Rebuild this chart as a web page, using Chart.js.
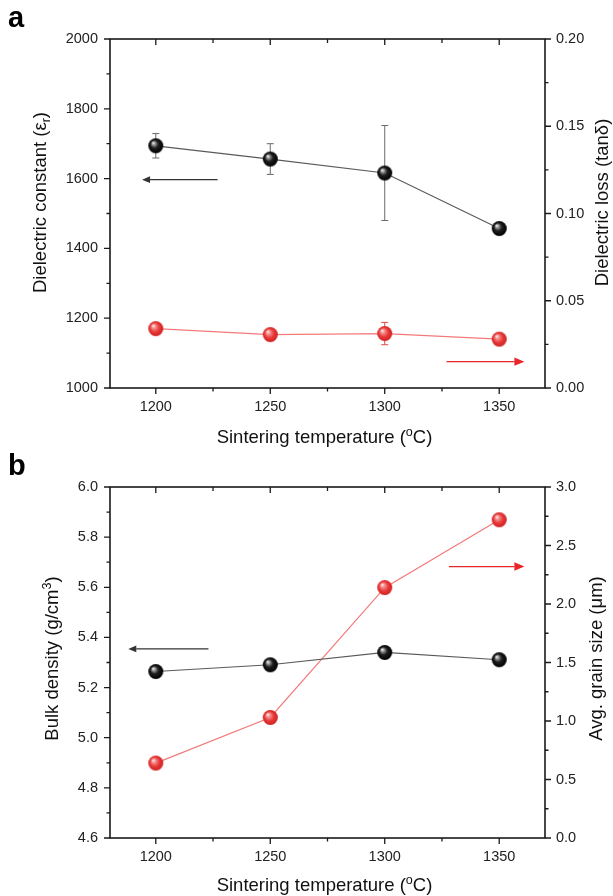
<!DOCTYPE html>
<html>
<head>
<meta charset="utf-8">
<script src="https://cdn.jsdelivr.net/npm/chart.js@4"></script>
<style>
  html, body { margin: 0; padding: 0; background: #fff; }
  #wrap { position: relative; width: 613px; height: 896px; }
  .panel { position: absolute; left: 0; width: 613px; }
  #pa { top: 0; height: 450px; }
  #pb { top: 450px; height: 446px; }
</style>
</head>
<body>
<div id="wrap">
  <div class="panel" id="pa"><canvas id="chartA"></canvas></div>
  <div class="panel" id="pb"><canvas id="chartB"></canvas></div>
</div>
<script>
// data
const temps = [1200, 1250, 1300, 1350];
const dielConst = [1694, 1656, 1616, 1457];
const dielConstErr = [35, 44, 136, 10];
const dielLoss = [0.034, 0.0306, 0.0312, 0.028];
const dielLossErr = [0, 0, 0.0064, 0];
const bulkDensity = [5.264, 5.291, 5.340, 5.311];
const grainSize = [0.64, 1.03, 2.14, 2.72];

// ticks
const xMajor = [1200, 1250, 1300, 1350];
const xMinor = [1225, 1275, 1325];
const aLeftMajor = [1000, 1200, 1400, 1600, 1800, 2000];
const aLeftMinor = [1100, 1300, 1500, 1700, 1900];
const aRightMajor = [0, 0.05, 0.10, 0.15, 0.20];
const aRightMinor = [0.025, 0.075, 0.125, 0.175];
const bLeftMajor = [4.6, 4.8, 5.0, 5.2, 5.4, 5.6, 5.8, 6.0];
const bLeftMinor = [4.7, 4.9, 5.1, 5.3, 5.5, 5.7, 5.9];
const bRightMajor = [0, 0.5, 1.0, 1.5, 2.0, 2.5, 3.0];
const bRightMinor = [0.25, 0.75, 1.25, 1.75, 2.25, 2.75];

const FONT = 'Arial, "Liberation Sans", Helvetica, sans-serif';
const AXIS = '#1a1a1a';

function sphere(r, stops) {
  const c = document.createElement('canvas');
  const s = Math.ceil(r * 2 + 2);
  c.width = s; c.height = s;
  const g = c.getContext('2d');
  const m = s / 2;
  const grad = g.createRadialGradient(m - r * 0.35, m - r * 0.4, r * 0.05, m, m, r);
  stops.forEach(([o, col]) => grad.addColorStop(o, col));
  g.fillStyle = grad;
  g.beginPath();
  g.arc(m, m, r, 0, Math.PI * 2);
  g.fill();
  return c;
}
const blackBall = sphere(7.5, [[0, '#f0f0f0'], [0.22, '#8a8a8a'], [0.5, '#1e1e1e'], [1, '#000']]);
const redBall = sphere(7.5, [[0, '#ffe4e4'], [0.25, '#f58a8a'], [0.6, '#e83a3a'], [1, '#d02020']]);

function pairs(xs, ys) { return xs.map((x, i) => ({ x, y: ys[i] })); }

function drawRich(ctx, segs, cx, cy, rot, size) {
  ctx.save();
  ctx.translate(cx, cy);
  ctx.rotate(rot);
  ctx.fillStyle = '#111';
  ctx.textBaseline = 'middle';
  let w = 0;
  segs.forEach(s => {
    ctx.font = (s.sub || s.sup ? size * 0.68 : size) + 'px ' + FONT;
    s.w = ctx.measureText(s.t).width;
    w += s.w;
  });
  let x = -w / 2;
  segs.forEach(s => {
    const fs = s.sub || s.sup ? size * 0.68 : size;
    ctx.font = fs + 'px ' + FONT;
    const dy = s.sub ? size * 0.28 : s.sup ? -size * 0.3 : 0;
    ctx.textAlign = 'left';
    ctx.fillText(s.t, x, dy);
    x += s.w;
  });
  ctx.restore();
}

// frame, minor ticks, error bars, arrows and titles
const decor = {
  id: 'decor',
  beforeDatasetsDraw(chart) {
    const ctx = chart.ctx;
    chart.data.datasets.forEach(ds => {
      if (!ds.errors) return;
      const xs = chart.scales.x, ys = chart.scales[ds.yAxisID];
      ctx.save();
      ctx.strokeStyle = ds.errColor;
      ctx.lineWidth = 1;
      ds.data.forEach((p, j) => {
        const e = ds.errors[j];
        if (!e) return;
        const px = xs.getPixelForValue(p.x);
        const t = ys.getPixelForValue(p.y + e), b = ys.getPixelForValue(p.y - e);
        ctx.beginPath();
        ctx.moveTo(px, t); ctx.lineTo(px, b);
        ctx.moveTo(px - 3.5, t); ctx.lineTo(px + 3.5, t);
        ctx.moveTo(px - 3.5, b); ctx.lineTo(px + 3.5, b);
        ctx.stroke();
      });
      ctx.restore();
    });
  },
  afterDraw(chart, args, o) {
    const ctx = chart.ctx;
    const a = chart.chartArea;
    ctx.save();
    ctx.strokeStyle = AXIS;
    ctx.lineWidth = 1.6;
    ctx.strokeRect(a.left, a.top, a.right - a.left, a.bottom - a.top);
    ctx.lineWidth = 1.3;
    ctx.beginPath();
    const xs = chart.scales.x;
    xs.ticks.forEach(t => {
      const px = xs.getPixelForValue(t.value);
      const len = o.xMajor.includes(t.value) ? 6 : 3.5;
      ctx.moveTo(px, a.bottom); ctx.lineTo(px, a.bottom + len);
      ctx.moveTo(px, a.top); ctx.lineTo(px, a.top + (o.xMajor.includes(t.value) ? 6 : 4));
    });
    ['y', 'y1'].forEach(id => {
      const s = chart.scales[id];
      const major = o[id + 'Major'];
      s.ticks.forEach(t => {
        const py = s.getPixelForValue(t.value);
        const len = major.includes(t.value) ? 6 : 3.5;
        if (id === 'y') { ctx.moveTo(a.left, py); ctx.lineTo(a.left - len, py); }
        else { ctx.moveTo(a.right, py); ctx.lineTo(a.right + len, py); }
      });
    });
    ctx.stroke();

    // arrows
    o.arrows.forEach(ar => {
      const ys = chart.scales[ar.axis];
      const x0 = xs.getPixelForValue(ar.from), x1 = xs.getPixelForValue(ar.to);
      const py = ys.getPixelForValue(ar.y);
      const dir = Math.sign(x1 - x0);
      ctx.strokeStyle = ar.color;
      ctx.fillStyle = ar.color;
      ctx.lineWidth = 1.3;
      ctx.beginPath();
      ctx.moveTo(x0, py); ctx.lineTo(x1 - dir * ar.head, py);
      ctx.stroke();
      ctx.beginPath();
      ctx.moveTo(x1, py);
      ctx.lineTo(x1 - dir * ar.head, py - ar.head * 0.42);
      ctx.lineTo(x1 - dir * ar.head, py + ar.head * 0.42);
      ctx.closePath();
      ctx.fill();
    });
    ctx.restore();

    // titles
    const cy = (a.top + a.bottom) / 2;
    drawRich(ctx, o.leftTitle, o.leftX, cy - o.titleLift, -Math.PI / 2, 18.5);
    drawRich(ctx, o.rightTitle, o.rightX, cy - o.titleLift, -Math.PI / 2, 18.5);
    drawRich(ctx, [{ t: 'Sintering temperature (' }, { t: 'o', sup: true }, { t: 'C)' }],
      (a.left + a.right) / 2 - 3, o.xTitleY, 0, 18.5);
    ctx.save();
    ctx.fillStyle = '#000';
    ctx.font = 'bold 29px ' + FONT;
    ctx.textAlign = 'left';
    ctx.textBaseline = 'alphabetic';
    ctx.fillText(o.letter, 8, o.letterY);
    ctx.restore();
  }
};

function makeChart(canvasId, cfg) {
  const allX = xMajor.concat(xMinor).sort((p, q) => p - q);
  const allL = cfg.leftMajor.concat(cfg.leftMinor).sort((p, q) => p - q);
  const allR = cfg.rightMajor.concat(cfg.rightMinor).sort((p, q) => p - q);
  const tickFont = { family: FONT, size: 14.5 };
  return new Chart(document.getElementById(canvasId), {
    type: 'line',
    data: {
      datasets: [
        {
          data: pairs(temps, cfg.leftData), yAxisID: 'y',
          borderColor: '#5a5a5a', borderWidth: 1.2, pointStyle: blackBall,
          errors: cfg.leftErr, errColor: '#6a6a6a'
        },
        {
          data: pairs(temps, cfg.rightData), yAxisID: 'y1',
          borderColor: '#f27a7a', borderWidth: 1.2, pointStyle: redBall,
          errors: cfg.rightErr, errColor: '#e04a4a'
        }
      ]
    },
    options: {
      responsive: true,
      maintainAspectRatio: false,
      animation: false,
      layout: { padding: { top: cfg.top, left: 0, right: 0, bottom: 0 } },
      plugins: {
        legend: { display: false },
        tooltip: { enabled: false },
        decor: {
          xMajor, yMajor: cfg.leftMajor, y1Major: cfg.rightMajor,
          arrows: cfg.arrows, leftTitle: cfg.leftTitle, rightTitle: cfg.rightTitle,
          leftX: cfg.leftX, rightX: cfg.rightX, titleLift: cfg.titleLift,
          xTitleY: cfg.xTitleY, letter: cfg.letter, letterY: cfg.letterY
        }
      },
      scales: {
        x: {
          type: 'linear', min: 1180, max: 1370,
          afterBuildTicks: s => { s.ticks = allX.map(v => ({ value: v })); },
          afterFit: s => { s.height = cfg.xHeight; },
          grid: { display: false, drawTicks: false },
          border: { display: false },
          ticks: {
            autoSkip: false, maxRotation: 0, padding: 10, color: '#222', font: tickFont,
            callback: v => xMajor.includes(v) ? String(v) : ''
          }
        },
        y: {
          position: 'left', min: cfg.leftMajor[0], max: cfg.leftMajor[cfg.leftMajor.length - 1],
          afterBuildTicks: s => { s.ticks = allL.map(v => ({ value: v })); },
          afterFit: s => { s.width = 110; },
          grid: { display: false, drawTicks: false },
          border: { display: false },
          ticks: {
            autoSkip: false, padding: 12, color: '#222', font: tickFont,
            callback: v => cfg.leftMajor.includes(v) ? v.toFixed(cfg.leftDec) : ''
          }
        },
        y1: {
          position: 'right', min: 0, max: cfg.rightMajor[cfg.rightMajor.length - 1],
          afterBuildTicks: s => { s.ticks = allR.map(v => ({ value: v })); },
          afterFit: s => { s.width = 68; },
          grid: { display: false, drawTicks: false },
          border: { display: false },
          ticks: {
            autoSkip: false, padding: 11, color: '#222', font: tickFont,
            callback: v => cfg.rightMajor.includes(v) ? v.toFixed(cfg.rightDec) : ''
          }
        }
      }
    },
    plugins: [decor]
  });
}

makeChart('chartA', {
  top: 39, xHeight: 62,
  leftData: dielConst, leftErr: dielConstErr,
  rightData: dielLoss, rightErr: dielLossErr,
  leftMajor: aLeftMajor, leftMinor: aLeftMinor, leftDec: 0,
  rightMajor: aRightMajor, rightMinor: aRightMinor, rightDec: 2,
  arrows: [
    { from: 1227, to: 1194, y: 1597, axis: 'y', color: '#333', head: 8 },
    { from: 1327, to: 1361, y: 0.0151, axis: 'y1', color: '#e8262a', head: 10 }
  ],
  leftTitle: [{ t: 'Dielectric constant (ε' }, { t: 'r', sub: true }, { t: ')' }],
  rightTitle: [{ t: 'Dielectric loss (tanδ)' }],
  leftX: 41, rightX: 603, titleLift: 11,
  xTitleY: 438, letter: 'a', letterY: 27
});

makeChart('chartB', {
  top: 37, xHeight: 58,
  leftData: bulkDensity, leftErr: null,
  rightData: grainSize, rightErr: null,
  leftMajor: bLeftMajor, leftMinor: bLeftMinor, leftDec: 1,
  rightMajor: bRightMajor, rightMinor: bRightMinor, rightDec: 1,
  arrows: [
    { from: 1223, to: 1188, y: 5.354, axis: 'y', color: '#333', head: 8 },
    { from: 1328, to: 1361, y: 2.32, axis: 'y1', color: '#e8262a', head: 10 }
  ],
  leftTitle: [{ t: 'Bulk density (g/cm' }, { t: '3', sup: true }, { t: ')' }],
  rightTitle: [{ t: 'Avg. grain size (μm)' }],
  leftX: 53, rightX: 597, titleLift: 4,
  xTitleY: 436, letter: 'b', letterY: 25
});
</script>
</body>
</html>
